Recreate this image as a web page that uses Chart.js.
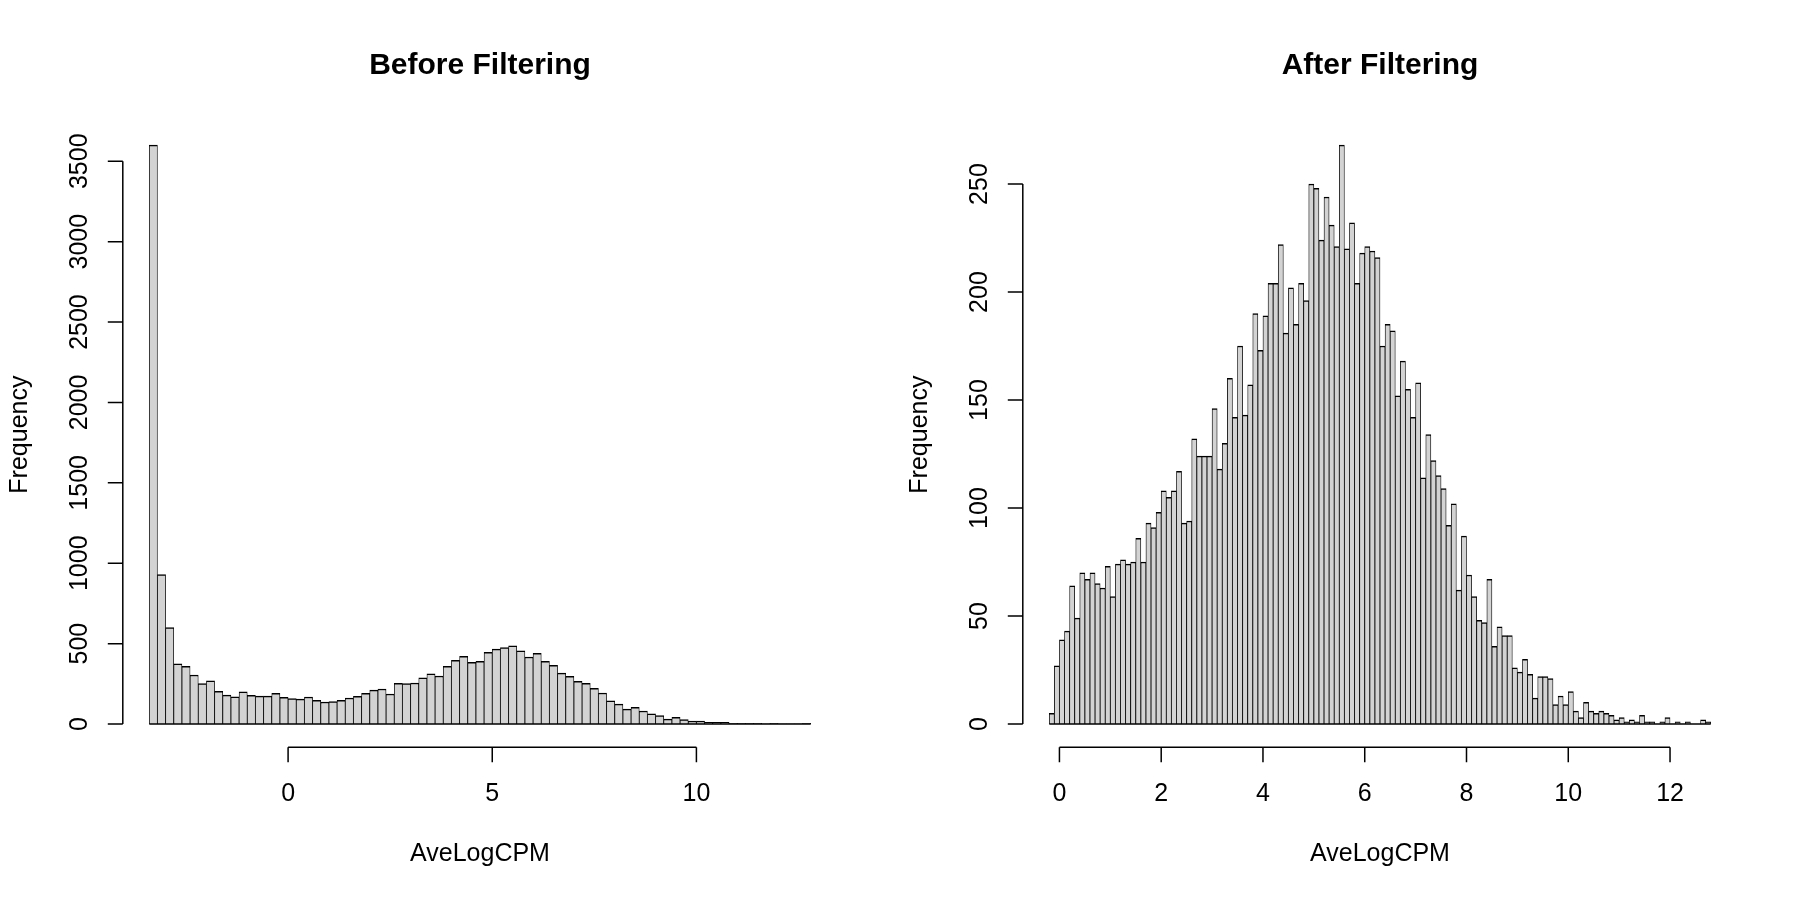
<!DOCTYPE html>
<html>
<head>
<meta charset="utf-8">
<script src="https://cdn.jsdelivr.net/npm/chart.js@4"></script>
<style>
  html, body { margin: 0; padding: 0; background: #fff; overflow: hidden; }
  .panels { display: flex; width: 1800px; height: 900px; }
  canvas { display: block; }
</style>
</head>
<body>
<div class="panels">
  <canvas id="before" width="900" height="900"></canvas>
  <canvas id="after" width="900" height="900"></canvas>
</div>
<script>
// Histogram bins: first break and bin width, counts
const beforeStart = -3.4;
const beforeBinWidth = 0.2;
const beforeCounts = [
  3600, 930, 600, 375, 359, 305, 251, 269, 203, 180,
  170, 201, 178, 174, 174, 191, 166, 158, 155, 168,
  147, 137, 139, 147, 162, 172, 191, 211, 218, 187,
  253, 251, 255, 288, 313, 299, 359, 396, 421, 384,
  390, 446, 466, 475, 487, 456, 417, 439, 390, 365,
  317, 296, 265, 253, 222, 193, 145, 124, 93, 104,
  81, 64, 52, 31, 41, 27, 19, 19, 10, 10,
  10, 4, 4, 4, 4, 2, 4, 2, 2, 1,
  4,
];

const afterStart = -0.2;
const afterBinWidth = 0.1;
const afterCounts = [
  5, 27, 39, 43, 64, 49, 70, 67, 70, 65,
  63, 73, 59, 74, 76, 74, 75, 86, 75, 93,
  91, 98, 108, 105, 108, 117, 93, 94, 132, 124,
  124, 124, 146, 118, 130, 160, 142, 175, 143, 157,
  190, 173, 189, 204, 204, 222, 181, 202, 185, 204,
  196, 250, 248, 224, 244, 231, 221, 268, 220, 232,
  204, 218, 221, 219, 216, 175, 185, 182, 152, 168,
  155, 142, 158, 114, 134, 122, 115, 109, 92, 102,
  62, 87, 69, 59, 48, 47, 67, 36, 45, 41,
  41, 26, 24, 30, 23, 12, 22, 22, 21, 9,
  13, 9, 15, 6, 3, 10, 6, 5, 6, 5,
  4, 2, 3, 1, 2, 1, 4, 1, 1, 0,
  1, 3, 0, 1, 0, 1, 0, 0, 2, 1,
];

// Axis tick labels
const beforeXTicks = [0, 5, 10];
const beforeYTicks = [0, 500, 1000, 1500, 2000, 2500, 3000, 3500];
const afterXTicks = [0, 2, 4, 6, 8, 10, 12];
const afterYTicks = [0, 50, 100, 150, 200, 250];

const FONT = '"Liberation Sans", Arial, Helvetica, sans-serif';

// base-R style axes: detached lines that only span the tick range
const rAxes = {
  id: 'rAxes',
  afterDraw(chart, args, opts) {
    const { ctx, chartArea: a } = chart;
    const x = chart.scales.x;
    const y = chart.scales.y;
    ctx.save();
    ctx.strokeStyle = '#000';
    ctx.fillStyle = '#000';
    ctx.lineWidth = 1.5;

    // bottom edge of the bars
    ctx.beginPath();
    ctx.moveTo(x.getPixelForValue(opts.from), y.getPixelForValue(0));
    ctx.lineTo(x.getPixelForValue(opts.to), y.getPixelForValue(0));
    ctx.stroke();

    // x axis
    const xt = opts.xTicks;
    ctx.beginPath();
    ctx.moveTo(x.getPixelForValue(xt[0]), a.bottom);
    ctx.lineTo(x.getPixelForValue(xt[xt.length - 1]), a.bottom);
    xt.forEach((v) => {
      const px = x.getPixelForValue(v);
      ctx.moveTo(px, a.bottom);
      ctx.lineTo(px, a.bottom + 15);
    });
    ctx.stroke();

    // y axis
    const yt = opts.yTicks;
    ctx.beginPath();
    ctx.moveTo(a.left, y.getPixelForValue(yt[0]));
    ctx.lineTo(a.left, y.getPixelForValue(yt[yt.length - 1]));
    yt.forEach((v) => {
      const py = y.getPixelForValue(v);
      ctx.moveTo(a.left, py);
      ctx.lineTo(a.left - 15, py);
    });
    ctx.stroke();

    ctx.font = '25px ' + FONT;
    ctx.textAlign = 'center';
    ctx.textBaseline = 'alphabetic';
    xt.forEach((v) => {
      ctx.fillText(String(v), x.getPixelForValue(v), a.bottom + 54);
    });
    yt.forEach((v) => {
      ctx.save();
      ctx.translate(a.left - 36, y.getPixelForValue(v));
      ctx.rotate(-Math.PI / 2);
      ctx.fillText(String(v), 0, 0);
      ctx.restore();
    });

    // axis titles
    const cx = (a.left + a.right) / 2;
    const cy = (a.top + a.bottom) / 2;
    ctx.fillText(opts.xLabel, cx, a.bottom + 114);
    ctx.save();
    ctx.translate(a.left - 96, cy);
    ctx.rotate(-Math.PI / 2);
    ctx.fillText(opts.yLabel, 0, 0);
    ctx.restore();

    // main title
    ctx.font = 'bold 30px ' + FONT;
    ctx.fillText(opts.title, cx, a.top - 48);
    ctx.restore();
  },
};

function makeHist(canvasId, title, start, binWidth, counts, xTicks, yTicks) {
  const end = start + binWidth * counts.length;
  const points = counts.map((c, i) => ({ x: start + binWidth * (i + 0.5), y: c }));
  const top = Math.max(...counts);
  const xPad = (end - start) * 0.04;

  return new Chart(document.getElementById(canvasId), {
    type: 'bar',
    data: {
      datasets: [
        {
          data: points,
          backgroundColor: '#d3d3d3',
          borderColor: '#000',
          borderWidth: { top: 1.5, left: 0.8, right: 0.8, bottom: 0 },
          borderSkipped: 'start',
          barPercentage: 1,
          categoryPercentage: 1,
        },
      ],
    },
    options: {
      responsive: false,
      animation: false,
      layout: { padding: { left: 122.8, right: 62.8, top: 122, bottom: 152.8 } },
      scales: {
        x: { type: 'linear', display: false, offset: false, min: start - xPad, max: end + xPad },
        y: { display: false, min: -top * 0.04, max: top * 1.04 },
      },
      plugins: {
        legend: { display: false },
        tooltip: { enabled: false },
        rAxes: {
          title: title,
          xLabel: 'AveLogCPM',
          yLabel: 'Frequency',
          from: start,
          to: end,
          xTicks: xTicks,
          yTicks: yTicks,
        },
      },
    },
    plugins: [rAxes],
  });
}

makeHist('before', 'Before Filtering', beforeStart, beforeBinWidth, beforeCounts, beforeXTicks, beforeYTicks);
makeHist('after', 'After Filtering', afterStart, afterBinWidth, afterCounts, afterXTicks, afterYTicks);
</script>
</body>
</html>
